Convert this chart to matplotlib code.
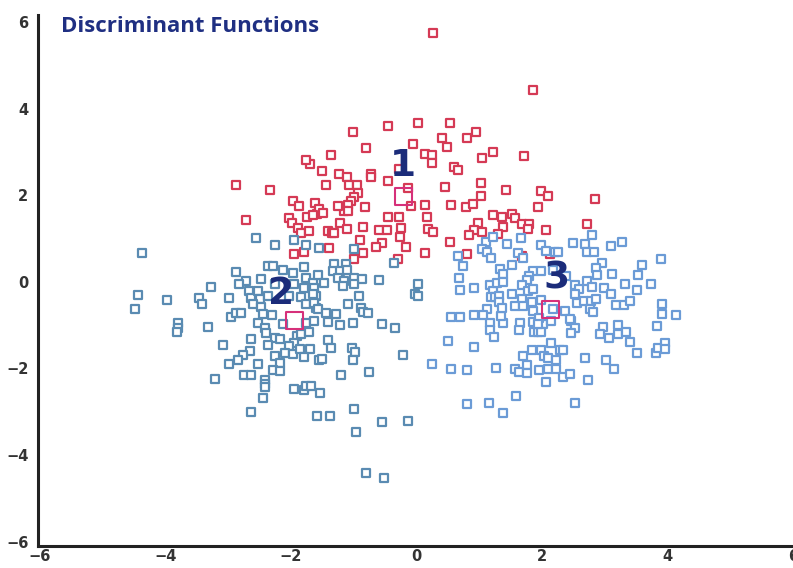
import numpy as np
import matplotlib
matplotlib.use("Agg")
import matplotlib.pyplot as plt

# group 1 (red)
g1 = [(0.27, 5.76), (1.85, 4.44), (-1.01, 3.47), (-0.46, 3.61), (0.02, 3.68), (0.54, 3.68), (0.95, 3.47),
      (0.81, 3.33), (0.41, 3.33), (0.49, 3.12), (-0.05, 3.19), (-0.81, 3.10), (-1.36, 2.94), (-1.69, 2.73),
      (-1.51, 2.57), (-1.23, 2.50), (-1.11, 2.43), (-0.73, 2.50), (-0.73, 2.43), (-0.46, 2.34), (-0.28, 2.61),
      (0.14, 2.96), (0.25, 2.94), (0.24, 2.75), (0.60, 2.66), (0.66, 2.59), (1.04, 2.87), (1.22, 3.01),
      (1.03, 2.29), (0.46, 2.20), (-1.44, 2.24), (-1.08, 2.24), (-0.95, 2.24), (-0.14, 2.17), (1.42, 2.11),
      (-1.76, 2.82), (-2.88, 2.24), (-2.34, 2.12), (1.72, 2.91), (1.99, 2.10), (-1.96, 1.87), (-1.87, 1.76),
      (-1.61, 1.83), (-2.71, 1.43), (-2.03, 1.48), (-1.98, 1.36), (-1.88, 1.25), (-1.84, 1.13), (-1.71, 1.18),
      (-1.74, 1.50), (-1.58, 1.57), (-1.95, 0.65), (-1.80, 0.69), (-0.93, 2.06), (-1.00, 1.97), (-1.04, 1.87),
      (-1.09, 1.78), (-1.16, 1.64), (-1.09, 1.64), (-0.82, 1.73), (-1.25, 1.76), (-1.55, 1.69), (-1.49, 1.60),
      (-1.65, 1.55), (-0.08, 1.76), (0.13, 1.78), (0.55, 1.78), (0.79, 1.73), (0.90, 1.80), (1.03, 1.99),
      (-0.46, 1.50), (-0.28, 1.50), (0.17, 1.50), (1.22, 1.55), (1.36, 1.50), (-1.22, 1.36), (-0.85, 1.27),
      (-0.60, 1.20), (-0.47, 1.20), (-0.24, 1.25), (0.19, 1.23), (0.27, 1.16), (0.98, 1.36), (0.92, 1.20),
      (1.04, 1.16), (0.84, 1.09), (1.38, 1.26), (1.30, 1.11), (-1.41, 1.18), (-1.34, 1.13), (-1.31, 1.13),
      (-1.11, 1.23), (-0.27, 1.04), (-0.90, 0.97), (-0.55, 0.90), (-0.65, 0.81), (-0.17, 0.81), (0.54, 0.92),
      (-1.39, 0.79), (-0.85, 0.67), (-1.00, 0.53), (0.14, 0.67), (-0.30, 0.53), (0.81, 0.65), (2.09, 1.99),
      (2.85, 1.92), (1.93, 1.73), (1.52, 1.57), (1.57, 1.48), (1.68, 1.34), (1.80, 1.34), (1.77, 1.23),
      (2.06, 1.20), (2.71, 1.34), (1.68, 0.60), (2.12, 0.65)]

# group 2 (steel blue)
g2 = [(-2.55, 1.02), (-2.26, 0.86), (-1.95, 0.97), (-1.76, 0.86), (-1.55, 0.79), (-4.38, 0.67), (-2.88, 0.23),
      (-2.36, 0.37), (-2.28, 0.37), (-2.12, 0.28), (-1.96, 0.21), (-1.80, 0.35), (-2.47, 0.07), (-2.71, 0.02),
      (-2.83, -0.05), (-2.67, -0.21), (-3.28, -0.12), (-2.26, -0.05), (-1.95, -0.05), (-1.76, 0.09),
      (-1.65, -0.02), (-1.80, -0.14), (-4.43, -0.30), (-4.48, -0.62), (-3.97, -0.42), (-3.47, -0.37),
      (-3.42, -0.51), (-2.99, -0.37), (-2.64, -0.37), (-2.53, -0.21), (-2.50, -0.39), (-2.36, -0.32),
      (-2.03, -0.32), (-1.84, -0.35), (-1.60, -0.32), (-2.61, -0.51), (-2.47, -0.58), (-1.76, -0.51),
      (-1.60, -0.60), (-2.96, -0.81), (-2.88, -0.72), (-2.80, -0.72), (-2.44, -0.74), (-2.31, -0.76),
      (-2.53, -0.95), (-2.41, -1.06), (-2.12, -0.97), (-1.76, -0.95), (-1.63, -0.90), (-3.80, -0.95),
      (-3.32, -1.04), (-3.80, -1.06), (-3.81, -1.16), (-3.09, -1.46), (-2.63, -1.32), (-2.39, -1.18),
      (-2.25, -1.29), (-2.17, -1.32), (-2.37, -1.46), (-1.90, -1.25), (-1.84, -1.20), (-1.72, -1.16),
      (-1.95, -1.41), (-2.03, -1.48), (-2.10, -1.64), (-1.96, -1.66), (-1.85, -1.55), (-1.69, -1.55),
      (-1.79, -1.73), (-1.55, -1.80), (-2.66, -1.60), (-2.77, -1.69), (-2.85, -1.80), (-2.99, -1.90),
      (-2.52, -1.90), (-2.26, -1.71), (-2.18, -1.87), (-2.28, -2.03), (-2.17, -2.06), (-2.75, -2.15),
      (-2.63, -2.15), (-3.21, -2.24), (-2.42, -2.27), (-2.42, -2.36), (-2.42, -2.43), (-2.44, -2.68),
      (-2.63, -3.01), (-1.95, -2.47), (-1.79, -2.50), (-1.76, -2.40), (-1.68, -2.40), (-1.53, -2.57),
      (-1.58, -3.10), (-1.41, -0.92), (-1.22, -0.99), (-1.01, -0.95), (-0.55, -0.97), (-0.35, -1.06),
      (-1.41, -1.34), (-1.36, -1.53), (-1.50, -1.78), (-1.03, -1.53), (-0.98, -1.62), (-1.01, -1.80),
      (-1.20, -2.15), (-0.76, -2.08), (-0.21, -1.69), (-1.00, -2.94), (-1.38, -3.10), (-0.97, -3.47),
      (-0.55, -3.24), (-0.14, -3.21), (-0.81, -4.42), (-0.51, -4.53), (-1.00, 0.76), (-0.36, 0.44),
      (-1.31, 0.42), (-1.12, 0.42), (-1.33, 0.25), (-1.22, 0.25), (-1.11, 0.28), (-1.57, 0.16), (-1.25, 0.09),
      (-1.16, 0.02), (-1.00, 0.09), (-0.87, 0.07), (-1.47, -0.02), (-0.60, 0.05), (-1.17, -0.09),
      (-1.00, -0.05), (-1.63, -0.14), (0.02, -0.05), (-0.02, -0.28), (0.03, -0.32), (-0.92, -0.32),
      (-1.65, -0.28), (-1.63, -0.49), (-1.57, -0.62), (-1.09, -0.51), (-0.89, -0.60), (-0.85, -0.69),
      (-0.78, -0.72), (-1.44, -0.72), (-1.28, -0.74)]

# group 3 (light blue)
g3 = [(0.51, -1.36), (0.92, -1.50), (0.24, -1.90), (0.55, -2.01), (0.81, -2.03), (1.27, -1.99), (0.81, -2.82),
      (1.16, -2.80), (1.38, -3.03), (1.17, -0.95), (1.17, -1.11), (1.23, -1.27), (1.38, -0.95), (1.65, -0.95),
      (1.63, -1.11), (1.85, -0.92), (2.01, -0.97), (2.15, -0.90), (1.88, -1.16), (1.93, -1.16), (1.99, -1.16),
      (2.47, -0.90), (2.53, -1.06), (2.47, -1.18), (2.97, -1.04), (2.93, -1.20), (3.07, -1.29), (3.21, -0.99),
      (3.21, -1.20), (3.34, -1.16), (3.40, -1.39), (3.51, -1.64), (3.83, -1.02), (3.81, -1.64), (3.85, -1.53),
      (3.96, -1.41), (3.96, -1.55), (2.15, -1.41), (1.84, -1.57), (1.99, -1.57), (2.28, -1.57), (2.33, -1.57),
      (1.69, -1.71), (2.04, -1.71), (2.09, -1.76), (2.23, -1.80), (1.76, -1.92), (1.57, -2.01), (1.63, -2.08),
      (1.76, -2.10), (1.95, -2.03), (2.10, -2.01), (2.22, -2.01), (2.33, -2.20), (2.45, -2.13), (2.07, -2.31),
      (2.69, -1.76), (2.74, -2.27), (3.02, -1.80), (3.15, -2.01), (1.58, -2.64), (2.53, -2.80), (1.44, 0.88),
      (1.11, 0.92), (1.22, 1.04), (1.04, 0.76), (1.12, 0.69), (1.19, 0.55), (0.66, 0.60), (0.74, 0.37),
      (1.33, 0.30), (1.38, 0.18), (0.68, 0.09), (0.70, -0.18), (0.92, -0.14), (1.17, -0.07), (1.22, -0.21),
      (1.28, -0.02), (1.38, 0.00), (1.19, -0.35), (1.25, -0.35), (1.31, -0.32), (1.31, -0.46), (1.12, -0.62),
      (0.92, -0.76), (1.06, -0.76), (0.55, -0.81), (0.70, -0.81), (1.34, -0.79), (1.66, 1.02), (1.98, 0.86),
      (2.07, 0.72), (2.20, 0.69), (2.26, 0.69), (2.50, 0.90), (2.69, 0.88), (2.80, 1.09), (2.72, 0.69),
      (2.83, 0.69), (3.10, 0.83), (3.28, 0.92), (3.89, 0.53), (3.59, 0.39), (2.96, 0.44), (2.86, 0.32),
      (2.88, 0.16), (3.12, 0.18), (3.53, 0.16), (3.32, -0.05), (3.73, -0.05), (3.51, -0.18), (1.61, 0.67),
      (1.69, 0.55), (1.52, 0.39), (1.85, 0.25), (1.98, 0.25), (1.80, 0.14), (2.17, 0.28), (1.76, 0.05),
      (1.68, -0.07), (1.77, -0.21), (1.85, -0.16), (2.39, 0.14), (2.52, -0.07), (2.59, -0.16), (2.72, 0.02),
      (2.80, -0.12), (2.99, -0.14), (3.10, -0.28), (1.53, -0.28), (1.68, -0.39), (1.57, -0.55), (1.69, -0.55),
      (1.84, -0.46), (1.85, -0.67), (1.36, -0.60), (1.99, -0.42), (2.36, -0.67), (2.53, -0.28), (2.56, -0.49),
      (2.67, -0.44), (2.78, -0.44), (2.86, -0.39), (2.77, -0.62), (2.82, -0.69), (3.18, -0.53), (3.31, -0.53),
      (3.40, -0.44), (3.91, -0.51), (3.92, -0.74), (4.13, -0.76), (2.44, -0.86), (1.96, -0.83), (1.93, -0.97),
      (2.17, -0.62)]

centroids = [(-0.21, 1.97), (-1.95, -0.90), (2.14, -0.65)]
group_labels = ["1", "2", "3"]
label_pos = [(-0.21, 2.68), (-2.15, -0.28), (2.23, 0.07)]

ticks = [-6, -4, -2, 0, 2, 4, 6]

fig = plt.figure(figsize=(7.93, 5.68), dpi=100)
ax = fig.add_axes([0.048, 0.039, 0.952, 0.935])

for pts, col in [(g1, "#d53a55"), (g2, "#5a8bb2"), (g3, "#6b9bd6")]:
    a = np.array(pts)
    ax.scatter(a[:, 0], a[:, 1], s=34, marker="s", facecolors="white",
               edgecolors=col, linewidths=1.6, zorder=3)

c = np.array(centroids)
ax.scatter(c[:, 0], c[:, 1], s=150, marker="s", facecolors="none",
           edgecolors="#d6307a", linewidths=1.5, zorder=5)

for lab, (lx, ly) in zip(group_labels, label_pos):
    ax.text(lx, ly, lab, fontsize=27, fontweight="bold", color="#1b2c7a",
            ha="center", va="center", zorder=6)

ax.text(0.031, 0.978, "Discriminant Functions", transform=ax.transAxes,
        fontsize=16, fontweight="bold", color="#1f2f82", ha="left", va="center",
        family="Open Sans")

ax.set_xlim(-6.03, 6.0)
ax.set_ylim(-6.1, 6.17)
ax.set_xticks(ticks)
ax.set_yticks(ticks)
ax.tick_params(length=0, labelsize=10.5, labelcolor="#333333")
ax.tick_params(axis="x", pad=2)
ax.tick_params(axis="y", pad=7)
for t in ax.get_xticklabels() + ax.get_yticklabels():
    t.set_fontweight("bold")
ax.spines["top"].set_visible(False)
ax.spines["right"].set_visible(False)
ax.spines["left"].set_linewidth(2.2)
ax.spines["bottom"].set_linewidth(2.2)
ax.spines["left"].set_color("#222222")
ax.spines["bottom"].set_color("#222222")

fig.savefig("out.png", dpi=100)
